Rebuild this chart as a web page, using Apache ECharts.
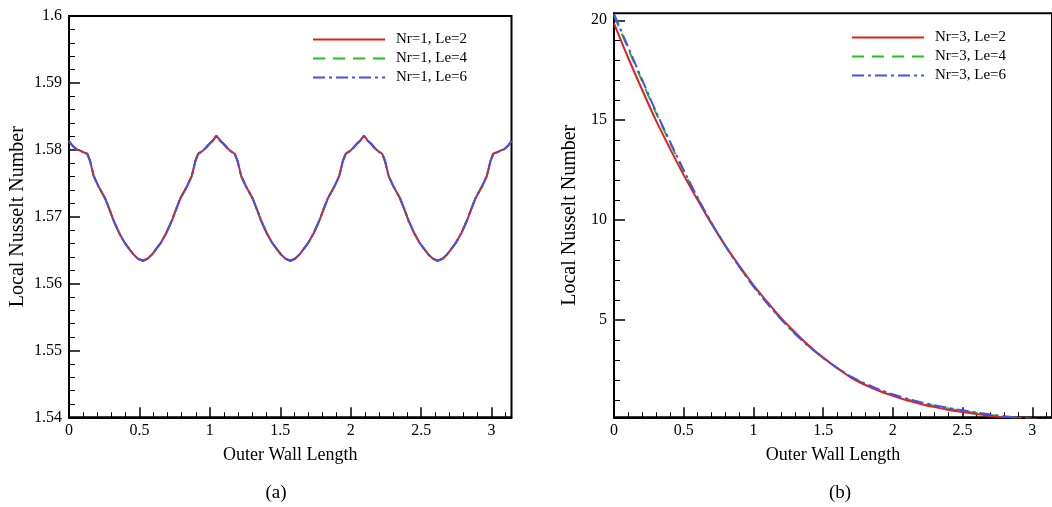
<!DOCTYPE html>
<html>
<head>
<meta charset="utf-8">
<script src="https://cdn.jsdelivr.net/npm/echarts@6.0.0/dist/echarts.min.js"></script>
<style>
  html, body { margin: 0; padding: 0; background: #fff; }
  #chart { width: 1052px; height: 507px; }
</style>
</head>
<body>
<div id="chart"></div>
<script>
// ---------- DATA ----------
// Panel (a): Nr = 1
const xA = [0, 0.025, 0.05, 0.075, 0.1, 0.13, 0.15, 0.175, 0.21, 0.255, 0.285, 0.315, 0.355, 0.395, 0.43, 0.46, 0.49, 0.524,
  0.557, 0.587, 0.617, 0.652, 0.692, 0.732, 0.762, 0.792, 0.837, 0.872, 0.897, 0.917, 0.947, 0.972, 0.997, 1.022, 1.047,
  1.072, 1.097, 1.122, 1.147, 1.177, 1.197, 1.222, 1.257, 1.302, 1.332, 1.362, 1.402, 1.442, 1.477, 1.507, 1.537, 1.571,
  1.604, 1.634, 1.664, 1.699, 1.739, 1.779, 1.809, 1.839, 1.884, 1.919, 1.944, 1.964, 1.994, 2.019, 2.044, 2.069, 2.094,
  2.119, 2.144, 2.169, 2.194, 2.224, 2.244, 2.269, 2.304, 2.349, 2.379, 2.409, 2.449, 2.489, 2.524, 2.554, 2.584, 2.618,
  2.652, 2.682, 2.712, 2.747, 2.787, 2.827, 2.857, 2.887, 2.932, 2.967, 2.992, 3.012, 3.042, 3.067, 3.092, 3.117, 3.1416];

const nuA_Le2 = [1.5813, 1.5806, 1.5801, 1.5799, 1.57965, 1.5794, 1.5783, 1.5761, 1.5745, 1.5728, 1.5712, 1.5695, 1.5676, 1.5661, 1.5651, 1.5643, 1.5637, 1.5634,
  1.5637, 1.5643, 1.5651, 1.5661, 1.5676, 1.5695, 1.5712, 1.5728, 1.5745, 1.5761, 1.5783, 1.5794, 1.5798, 1.5803, 1.5809, 1.5814, 1.5821,
  1.5814, 1.5809, 1.5803, 1.5798, 1.5794, 1.5783, 1.5761, 1.5745, 1.5728, 1.5712, 1.5695, 1.5676, 1.5661, 1.5651, 1.5643, 1.5637, 1.5634,
  1.5637, 1.5643, 1.5651, 1.5661, 1.5676, 1.5695, 1.5712, 1.5728, 1.5745, 1.5761, 1.5783, 1.5794, 1.5798, 1.5803, 1.5809, 1.5814, 1.5821,
  1.5814, 1.5809, 1.5803, 1.5798, 1.5794, 1.5783, 1.5761, 1.5745, 1.5728, 1.5712, 1.5695, 1.5676, 1.5661, 1.5651, 1.5643, 1.5637, 1.5634,
  1.5637, 1.5643, 1.5651, 1.5661, 1.5676, 1.5695, 1.5712, 1.5728, 1.5745, 1.5761, 1.5783, 1.5794, 1.57965, 1.5799, 1.5801, 1.5806, 1.5813];
// Le=4 and Le=6 coincide with Le=2 in panel (a)
const nuA_Le4 = nuA_Le2.slice();
const nuA_Le6 = nuA_Le2.slice();

// Panel (b): Nr = 3
const xB = [0, 0.1, 0.2, 0.3, 0.4, 0.5, 0.6, 0.7, 0.8, 0.9, 1.0, 1.1, 1.2, 1.3, 1.4, 1.5, 1.6, 1.7, 1.8, 1.9,
  2.0, 2.1, 2.2, 2.3, 2.4, 2.5, 2.6, 2.7, 2.8, 2.9, 3.0, 3.1416];
const nuB_Le2 = [19.85, 18.15, 16.55, 15.0, 13.6, 12.25, 11.0, 9.8, 8.7, 7.7, 6.75, 5.9, 5.08, 4.37, 3.7, 3.12, 2.6, 2.12, 1.76, 1.46,
  1.2, 0.98, 0.8, 0.64, 0.5, 0.39, 0.29, 0.2, 0.13, 0.08, 0.04, 0.02];
const nuB_Le4 = [20.25, 18.6, 16.98, 15.38, 13.9, 12.45, 11.1, 9.84, 8.7, 7.66, 6.7, 5.84, 5.04, 4.32, 3.68, 3.11, 2.6, 2.16, 1.8, 1.5,
  1.25, 1.04, 0.86, 0.7, 0.57, 0.45, 0.35, 0.25, 0.16, 0.1, 0.05, 0.03];
const nuB_Le6 = [20.32, 18.68, 17.05, 15.45, 13.95, 12.5, 11.12, 9.85, 8.7, 7.65, 6.68, 5.82, 5.02, 4.3, 3.66, 3.1, 2.6, 2.17, 1.82, 1.53,
  1.28, 1.07, 0.89, 0.73, 0.6, 0.48, 0.37, 0.27, 0.18, 0.11, 0.06, 0.03];

// Tick values
const xMax = 3.1416;
const xTicksMajor = [0, 0.5, 1, 1.5, 2, 2.5, 3];
const xTicksMinor = [0.1, 0.2, 0.3, 0.4, 0.6, 0.7, 0.8, 0.9, 1.1, 1.2, 1.3, 1.4, 1.6, 1.7, 1.8, 1.9,
  2.1, 2.2, 2.3, 2.4, 2.6, 2.7, 2.8, 2.9, 3.1];
const yTicksB_Major = [5, 10, 15, 20];
const yTicksB_Minor = [1, 2, 3, 4, 6, 7, 8, 9, 11, 12, 13, 14, 16, 17, 18, 19];

const namesA = ['Nr=1, Le=2', 'Nr=1, Le=4', 'Nr=1, Le=6'];
const namesB = ['Nr=3, Le=2', 'Nr=3, Le=4', 'Nr=3, Le=6'];
const xName = 'Outer Wall Length';
const yName = 'Local Nusselt Number';

// ---------- STYLE ----------
const FONT = '"Liberation Serif", "Times New Roman", serif';
const RED = '#e3201e', GREEN = '#1ec31e', BLUE = '#4550f2';
const styles = [
  { color: RED, type: 'solid', z: 3 },
  { color: GREEN, type: [12, 8], z: 2 },
  { color: BLUE, type: [12, 4, 3, 4], z: 4 }
];

function zip(xs, ys) { return xs.map((x, i) => [x, ys[i]]); }

// Three overlapping x axes per grid: line + major ticks + name, minor ticks, labels
function xAxes(grid) {
  return [
    {
      type: 'value', gridIndex: grid, position: 'bottom', min: 0, max: xMax,
      name: xName, nameLocation: 'middle', nameGap: 29,
      nameTextStyle: { fontFamily: FONT, fontSize: 18, color: '#000' },
      axisLine: { show: true, onZero: false, lineStyle: { color: '#000', width: 2 } },
      axisTick: { show: true, inside: true, length: 10, customValues: xTicksMajor, lineStyle: { color: '#000', width: 1.5 } },
      axisLabel: { show: false },
      splitLine: { show: false }
    },
    {
      type: 'value', gridIndex: grid, position: 'bottom', min: 0, max: xMax,
      axisLine: { show: false },
      axisTick: { show: true, inside: true, length: 5, customValues: xTicksMinor, lineStyle: { color: '#000', width: 1 } },
      axisLabel: { show: false },
      splitLine: { show: false }
    },
    {
      type: 'value', gridIndex: grid, position: 'bottom', min: 0, max: xMax,
      axisLine: { show: false },
      axisTick: { show: false },
      axisLabel: { show: true, customValues: xTicksMajor, margin: 5, fontFamily: FONT, fontSize: 16, color: '#000',
        hideOverlap: false },
      splitLine: { show: false }
    }
  ];
}

const series = [];
[nuA_Le2, nuA_Le4, nuA_Le6].forEach((ys, i) => {
  series.push({
    name: namesA[i], type: 'line', xAxisIndex: 0, yAxisIndex: 0,
    data: zip(xA, ys), symbol: 'none', showSymbol: false, smooth: false, clip: true,
    z: styles[i].z,
    lineStyle: { color: styles[i].color, width: 2, type: styles[i].type },
    itemStyle: { color: styles[i].color }
  });
});
[nuB_Le2, nuB_Le4, nuB_Le6].forEach((ys, i) => {
  series.push({
    name: namesB[i], type: 'line', xAxisIndex: 3, yAxisIndex: 1,
    data: zip(xB, ys), symbol: 'none', showSymbol: false, smooth: 0.3, clip: true,
    z: styles[i].z,
    lineStyle: { color: styles[i].color, width: 2, type: styles[i].type },
    itemStyle: { color: styles[i].color }
  });
});

const legendCommon = {
  orient: 'vertical', itemWidth: 72, itemHeight: 14, itemGap: 4,
  itemStyle: { opacity: 0 },
  textStyle: { fontFamily: FONT, fontSize: 15, color: '#000', padding: [0, 0, 0, 6] },
  selectedMode: false
};

const option = {
  animation: false,
  backgroundColor: '#fff',
  grid: [
    { left: 69, top: 16, width: 442.5, height: 401.3, show: true, borderColor: '#000', borderWidth: 2,
      backgroundColor: 'transparent', containLabel: false, outerBoundsMode: 'none' },
    { left: 614, top: 13.3, width: 438, height: 404, show: true, borderColor: '#000', borderWidth: 2,
      backgroundColor: 'transparent', containLabel: false, outerBoundsMode: 'none' }
  ],
  legend: [
    Object.assign({ data: namesA, left: 307, top: 27 }, legendCommon),
    Object.assign({ data: namesB, left: 846, top: 25 }, legendCommon)
  ],
  xAxis: xAxes(0).concat(xAxes(1)),
  yAxis: [
    {
      type: 'value', gridIndex: 0, min: 1.54, max: 1.6, interval: 0.01,
      name: yName, nameLocation: 'middle', nameGap: 41, nameRotate: 90,
      nameTextStyle: { fontFamily: FONT, fontSize: 20, color: '#000' },
      axisLine: { show: true, onZero: false, lineStyle: { color: '#000', width: 2 } },
      axisTick: { show: true, inside: true, length: 11, lineStyle: { color: '#000', width: 1.5 } },
      minorTick: { show: true, splitNumber: 5, length: 6, lineStyle: { color: '#000', width: 1 } },
      axisLabel: { margin: 7, fontFamily: FONT, fontSize: 16, color: '#000' },
      splitLine: { show: false }, minorSplitLine: { show: false }
    },
    {
      type: 'value', gridIndex: 1, min: 0.13, max: 20.35, position: 'left',
      name: yName, nameLocation: 'middle', nameGap: 34, nameRotate: 90,
      nameTextStyle: { fontFamily: FONT, fontSize: 20, color: '#000' },
      axisLine: { show: true, onZero: false, lineStyle: { color: '#000', width: 2 } },
      axisTick: { show: true, inside: true, length: 11, customValues: yTicksB_Major, lineStyle: { color: '#000', width: 1.5 } },
      axisLabel: { show: true, customValues: yTicksB_Major, margin: 7, fontFamily: FONT, fontSize: 16, color: '#000' },
      splitLine: { show: false }
    },
    {
      type: 'value', gridIndex: 1, min: 0.13, max: 20.35, position: 'left', offset: 0,
      axisLine: { show: false },
      axisTick: { show: true, inside: true, length: 6, customValues: yTicksB_Minor, lineStyle: { color: '#000', width: 1 } },
      axisLabel: { show: false },
      splitLine: { show: false }
    }
  ],
  graphic: [
    { type: 'text', style: { text: '(a)', x: 276, y: 493, align: 'center', verticalAlign: 'middle',
      fontFamily: FONT, fontSize: 19, fill: '#000' } },
    { type: 'text', style: { text: '(b)', x: 840, y: 493, align: 'center', verticalAlign: 'middle',
      fontFamily: FONT, fontSize: 19, fill: '#000' } }
  ],
  series: series
};

const chart = echarts.init(document.getElementById('chart'), null, { renderer: 'canvas' });
chart.setOption(option);
</script>
</body>
</html>
